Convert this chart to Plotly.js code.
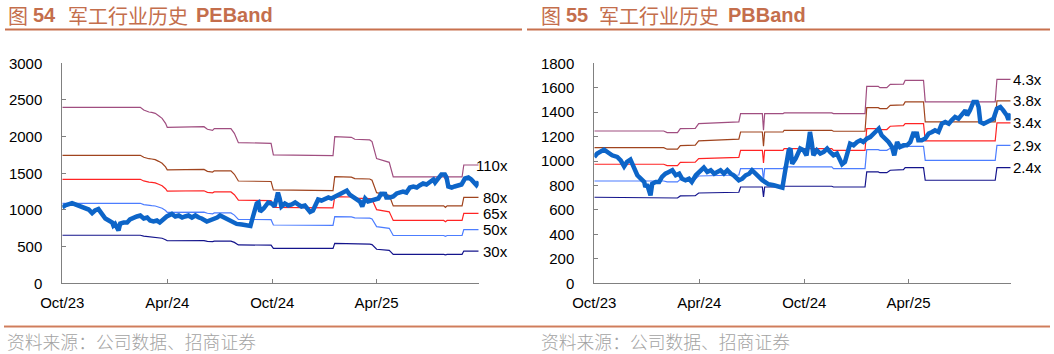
<!DOCTYPE html>
<html>
<head>
<meta charset="utf-8">
<script src="https://cdn.plot.ly/plotly-3.0.1.min.js"></script>
<style>html,body{margin:0;padding:0;background:#fff;}#chart{width:1054px;height:354px;}</style>
</head>
<body>
<div id="chart"></div>
<script>
// ---------------- DATA ----------------
const tickDates = ['2023-10-01','2024-04-01','2024-10-01','2025-04-01'];
const tickLabels = ['Oct/23','Apr/24','Oct/24','Apr/25'];

// Sector index (shared by both charts)
const idxDates = ['2023-10-01','2023-10-06','2023-10-18','2023-10-24','2023-11-01','2023-11-10','2023-11-16','2023-11-22','2023-11-27','2023-12-03','2023-12-09','2023-12-15','2023-12-21','2023-12-27','2023-12-29','2024-01-01','2024-01-07','2024-01-10','2024-01-16','2024-01-22','2024-01-27','2024-02-02','2024-02-08','2024-02-14','2024-02-20','2024-02-26','2024-03-02','2024-03-08','2024-03-14','2024-03-19','2024-03-26','2024-03-31','2024-04-09','2024-04-15','2024-04-21','2024-04-27','2024-05-02','2024-05-08','2024-05-14','2024-05-20','2024-05-26','2024-05-31','2024-06-09','2024-06-15','2024-06-21','2024-06-27','2024-07-02','2024-07-08','2024-07-14','2024-07-20','2024-07-26','2024-07-31','2024-08-09','2024-08-18','2024-08-24','2024-08-28','2024-08-31','2024-09-04','2024-09-07','2024-09-10','2024-09-16','2024-09-22','2024-09-24','2024-09-30','2024-10-05','2024-10-09','2024-10-11','2024-10-14','2024-10-17','2024-10-23','2024-10-29','2024-11-04','2024-11-10','2024-11-15','2024-11-21','2024-11-27','2024-12-03','2024-12-06','2024-12-11','2024-12-17','2024-12-20','2024-12-26','2025-01-01','2025-01-07','2025-01-12','2025-01-18','2025-01-24','2025-02-02','2025-02-08','2025-02-13','2025-02-19','2025-02-25','2025-03-03','2025-03-07','2025-03-12','2025-03-17','2025-03-23','2025-03-29','2025-04-04','2025-04-10','2025-04-12','2025-04-15','2025-04-18','2025-04-24','2025-04-30','2025-05-06','2025-05-12','2025-05-17','2025-05-23','2025-05-29','2025-06-04','2025-06-10','2025-06-15','2025-06-21','2025-06-27','2025-07-03','2025-07-09','2025-07-12','2025-07-17','2025-07-23','2025-07-29','2025-08-01','2025-08-04','2025-08-10','2025-08-15','2025-08-21','2025-08-27','2025-09-02','2025-09-08','2025-09-13','2025-09-19','2025-09-22','2025-09-24','2025-09-26'];
const idxValues = [1034,1061,1094,1075,1047,1034,1006,957,993,1012,952,884,856,829,788,810,720,815,829,829,870,897,911,925,884,897,856,843,856,829,884,911,946,911,925,897,911,925,897,925,897,884,843,856,884,897,925,903,870,843,821,810,802,794,783,897,1006,1088,1102,979,1020,1075,1102,1088,1047,1170,1238,1156,1047,1088,1061,1075,1102,1075,1047,1061,1006,974,993,1102,1143,1129,1156,1170,1156,1184,1197,1238,1265,1211,1184,1156,1115,1047,1156,1115,1129,1129,1156,1238,1197,1238,1170,1170,1184,1225,1238,1252,1238,1306,1320,1306,1334,1361,1347,1388,1415,1375,1415,1484,1484,1443,1320,1306,1320,1334,1347,1429,1443,1415,1375,1339,1361,1388];

// PE band (left chart)
const peDates = ['2023-10-01','2024-02-14','2024-02-20','2024-02-26','2024-02-29','2024-03-05','2024-03-11','2024-03-17','2024-03-23','2024-03-29','2024-04-01','2024-06-04','2024-06-10','2024-06-19','2024-06-22','2024-07-21','2024-07-27','2024-08-03','2024-09-29','2024-10-03','2025-01-15','2025-01-18','2025-02-16','2025-02-22','2025-03-20','2025-03-24','2025-04-01','2025-04-23','2025-04-30','2025-07-27','2025-07-30','2025-08-02','2025-08-28','2025-08-31','2025-09-26'];
const pe110 = [2400,2400,2363,2340,2336,2330,2318,2286,2250,2182,2127,2136,2100,2086,2109,2109,2045,1918,1909,1750,1740,2000,1991,1964,1955,1932,1700,1650,1450,1450,1420,1450,1450,1613,1613];
const pe80  = [1745,1745,1719,1702,1699,1695,1686,1663,1636,1587,1547,1553,1527,1517,1534,1534,1487,1395,1388,1273,1265,1455,1448,1428,1422,1405,1236,1200,1055,1055,1033,1055,1055,1173,1173];
const pe65  = [1418,1418,1396,1383,1380,1377,1370,1351,1330,1289,1257,1262,1241,1233,1246,1246,1208,1133,1128,1034,1028,1182,1177,1161,1155,1142,1005,975,857,857,839,857,857,953,953];
const pe50  = [1091,1091,1074,1064,1062,1059,1054,1039,1023,992,967,971,955,948,959,959,930,872,868,795,791,909,905,893,889,878,773,750,652,652,640,652,652,733,733];
const pe30  = [655,655,644,638,637,635,632,623,614,595,580,583,573,569,575,575,558,523,521,477,475,545,543,536,533,527,464,450,395,395,387,395,395,440,440];
const peLabels = ['110x','80x','65x','50x','30x'];

// PB band (right chart)
const pbDates = ['2023-10-01','2024-01-30','2024-02-05','2024-02-23','2024-02-28','2024-03-14','2024-03-25','2024-03-31','2024-06-09','2024-06-12','2024-07-20','2024-07-22','2024-07-24','2024-08-25','2024-08-27','2024-11-18','2024-11-21','2025-01-15','2025-01-18','2025-02-07','2025-02-10','2025-02-22','2025-02-28','2025-03-23','2025-03-26','2025-04-27','2025-04-30','2025-08-30','2025-09-02','2025-09-26'];
const pb43 = [1246,1246,1233,1233,1265,1265,1268,1306,1320,1388,1388,1252,1388,1388,1394,1394,1388,1388,1612,1612,1601,1601,1628,1630,1661,1661,1484,1484,1669,1669];
const pb38 = [1110,1110,1097,1097,1127,1127,1130,1165,1180,1238,1238,1121,1238,1238,1252,1252,1244,1244,1437,1437,1429,1429,1456,1460,1484,1484,1320,1320,1492,1492];
const pb34 = [974,974,963,963,989,989,992,1020,1030,1088,1088,985,1088,1088,1102,1102,1088,1088,1265,1265,1258,1258,1285,1290,1306,1306,1165,1165,1312,1312];
const pb29 = [837,837,830,830,850,850,852,878,886,938,938,842,938,938,952,952,938,938,1094,1094,1088,1088,1105,1110,1121,1121,1006,1006,1129,1129];
const pb24 = [704,704,698,698,715,715,717,739,745,788,788,707,788,788,794,794,788,788,911,911,905,905,925,930,946,946,843,843,946,946];
const pbLabels = ['4.3x','3.8x','3.4x','2.9x','2.4x'];

const leftTicks = [0,500,1000,1500,2000,2500,3000];
const rightTicks = [0,200,400,600,800,1000,1200,1400,1600,1800];

// ---------------- STYLE ----------------
const W = 1054, H = 354;
const px = v => v / W;
const py = v => 1 - v / H;
const bandColors = ['#A04E80','#A0441E','#FF2424','#4C7DFF','#14148C'];
const idxColor = '#0D65C8';
const titleColor = '#C46E4C';
const latin = 'Liberation Sans, Arial, sans-serif';
const cjk = 'Noto Sans CJK SC, sans-serif';

const peSeries = [pe110, pe80, pe65, pe50, pe30];
const pbSeries = [pb43, pb38, pb34, pb29, pb24];

const traces = [];
peSeries.forEach((s, i) => traces.push({x: peDates, y: s, type: 'scatter', mode: 'lines', xaxis: 'x', yaxis: 'y', line: {color: bandColors[i], width: 1.2}, hoverinfo: 'skip'}));
traces.push({x: idxDates, y: idxValues, type: 'scatter', mode: 'lines', xaxis: 'x', yaxis: 'y', line: {color: idxColor, width: 4.5}, hoverinfo: 'skip'});
pbSeries.forEach((s, i) => traces.push({x: pbDates, y: s, type: 'scatter', mode: 'lines', xaxis: 'x2', yaxis: 'y2', line: {color: bandColors[i], width: 1.2}, hoverinfo: 'skip'}));
traces.push({x: idxDates, y: idxValues, type: 'scatter', mode: 'lines', xaxis: 'x2', yaxis: 'y2', line: {color: idxColor, width: 4.5}, hoverinfo: 'skip'});

const axisCommon = {
  showline: true, linecolor: '#808080', linewidth: 1, showgrid: false, zeroline: false,
  ticks: 'inside', ticklen: 4, tickcolor: '#808080', tickwidth: 1,
  tickfont: {family: latin, size: 15, color: '#000'}
};
const xRange = [idxDates[0], idxDates[idxDates.length - 1]];
function xAxis(domain, anchor) {
  return Object.assign({}, axisCommon, {type: 'date', domain: domain, anchor: anchor, range: xRange,
    tickmode: 'array', tickvals: tickDates, ticktext: tickLabels, ticklabelstandoff: 6});
}
function yAxis(domain, anchor, ticks) {
  return Object.assign({}, axisCommon, {domain: domain, anchor: anchor, range: [0, ticks[ticks.length - 1]],
    tickmode: 'array', tickvals: ticks, ticktext: ticks.map(String), ticklabelstandoff: 16});
}
const yDom = [py(283.3), py(63.3)];

const annotations = [];
function addText(text, x, y, size, color, family, anchor, weight) {
  annotations.push({text: text, xref: 'paper', yref: 'paper', x: px(x), y: py(y), xanchor: anchor || 'left', yanchor: 'middle', showarrow: false, font: {size: size, color: color, family: family, weight: weight || 'normal'}});
}
// titles
addText('图', 5.5, 15.5, 20, titleColor, cjk);
addText('<b>54</b>', 31, 15.5, 20, titleColor, latin);
addText('军工行业历史', 65.5, 15.5, 20, titleColor, cjk);
addText('<b>PEBand</b>', 194, 15.5, 20, titleColor, latin);
addText('图', 538.5, 15.5, 20, titleColor, cjk);
addText('<b>55</b>', 563.5, 15.5, 20, titleColor, latin);
addText('军工行业历史', 597, 15.5, 20, titleColor, cjk);
addText('<b>PBBand</b>', 725.5, 15.5, 20, titleColor, latin);
// footers
addText('资料来源：公司数据、招商证券', 5, 340.5, 17.8, '#a3a3a3', cjk, 'left', 300);
addText('资料来源：公司数据、招商证券', 539, 340.5, 17.8, '#a3a3a3', cjk, 'left', 300);
// band labels
peSeries.forEach((s, i) => annotations.push({text: peLabels[i], xref: 'paper', yref: 'y', x: px(510), y: s[s.length - 1], xanchor: 'right', yanchor: 'middle', showarrow: false, font: {size: 15, color: '#000', family: latin}}));
pbSeries.forEach((s, i) => annotations.push({text: pbLabels[i], xref: 'paper', yref: 'y2', x: px(1010.5), y: s[s.length - 1], xanchor: 'left', yanchor: 'middle', showarrow: false, font: {size: 15, color: '#000', family: latin}}));

const shapes = [
  {type: 'line', xref: 'paper', yref: 'paper', x0: px(5), x1: px(522), y0: py(29.5), y1: py(29.5), line: {color: '#C8714E', width: 2}},
  {type: 'line', xref: 'paper', yref: 'paper', x0: px(527), x1: px(1050), y0: py(29.5), y1: py(29.5), line: {color: '#C8714E', width: 2}},
  {type: 'line', xref: 'paper', yref: 'paper', x0: px(4), x1: px(1050), y0: py(325.5), y1: py(325.5), line: {color: '#EBC2B0', width: 1}},
  {type: 'line', xref: 'paper', yref: 'paper', x0: px(4), x1: px(1050), y0: py(326.8), y1: py(326.8), line: {color: '#CF7D5C', width: 1.5}}
];

const layout = {
  width: W, height: H, margin: {l: 0, r: 0, t: 0, b: 0},
  paper_bgcolor: '#fff', plot_bgcolor: 'rgba(0,0,0,0)', showlegend: false,
  xaxis: xAxis([px(62.3), px(478.7)], 'y'),
  yaxis: yAxis(yDom, 'x', leftTicks),
  xaxis2: xAxis([px(594.3), px(1010.7)], 'y2'),
  yaxis2: yAxis(yDom, 'x2', rightTicks),
  annotations: annotations, shapes: shapes
};
Plotly.newPlot('chart', traces, layout, {displayModeBar: false, staticPlot: true});
</script>
</body>
</html>
